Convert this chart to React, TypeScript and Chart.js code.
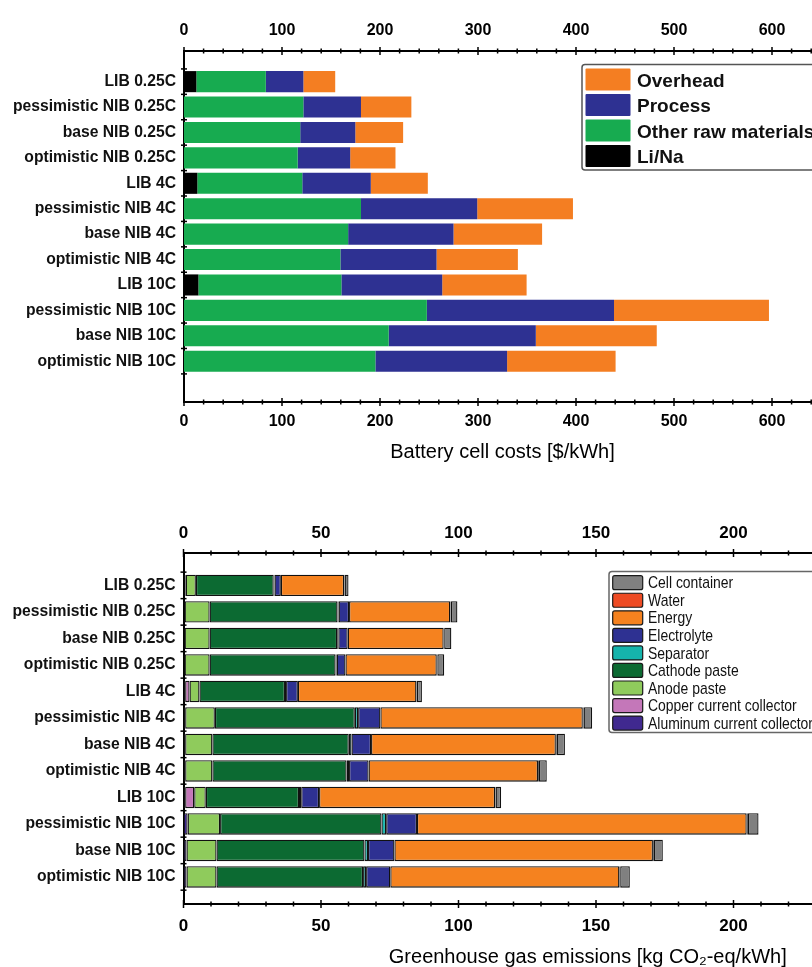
import React, { useEffect, useRef } from 'react';
import { Chart, registerables } from 'chart.js';

Chart.register(...registerables);

// ---------- data ----------
const CATEGORIES = [
  'LIB 0.25C',
  'pessimistic NIB 0.25C',
  'base NIB 0.25C',
  'optimistic NIB 0.25C',
  'LIB 4C',
  'pessimistic NIB 4C',
  'base NIB 4C',
  'optimistic NIB 4C',
  'LIB 10C',
  'pessimistic NIB 10C',
  'base NIB 10C',
  'optimistic NIB 10C',
];

const COST_MAJOR_TICKS = [0, 100, 200, 300, 400, 500, 600];
const GHG_MAJOR_TICKS = [0, 50, 100, 150, 200, 250];

// Battery cell costs [$/kWh] – segment sizes, left to right
const COST_LI_NA = [12.6, 0, 0, 0, 13.6, 0, 0, 0, 14.7, 0, 0, 0];
const COST_OTHER_RAW = [70.9, 121.8, 118.6, 116.0, 107.1, 180.6, 167.5, 159.6, 145.9, 247.8, 208.9, 195.3];
const COST_PROCESS = [38.3, 58.8, 56.2, 53.6, 69.9, 118.6, 107.5, 98.1, 102.9, 191.0, 150.1, 134.4];
const COST_OVERHEAD = [32.5, 51.4, 48.8, 46.2, 58.2, 97.7, 90.4, 83.0, 86.1, 158.1, 123.4, 110.7];

// Greenhouse gas emissions [kg CO2-eq/kWh] – segment sizes, left to right
const GHG_ALUMINUM = [0.4, 0.4, 0.4, 0.4, 0.6, 0.6, 0.6, 0.6, 0.6, 1.5, 1.1, 1.1];
const GHG_COPPER = [0.4, 0, 0, 0, 1.6, 0, 0, 0, 3.3, 0, 0, 0];
const GHG_ANODE = [3.7, 9.1, 9.1, 9.1, 3.6, 10.8, 9.9, 9.9, 4.2, 11.8, 10.9, 10.9];
const GHG_CATHODE = [28.3, 46.5, 46.4, 45.8, 31.1, 50.9, 49.6, 48.8, 33.9, 58.7, 53.8, 53.3];
const GHG_SEPARATOR = [0.3, 0.4, 0.4, 0.4, 0.4, 1.2, 1.0, 0.9, 0.8, 1.7, 1.3, 1.1];
const GHG_ELECTROLYTE = [2.3, 3.8, 3.4, 3.2, 4.3, 8.1, 7.1, 7.1, 6.5, 11.2, 9.6, 8.8];
const GHG_ENERGY = [23.0, 36.8, 34.9, 33.2, 43.1, 73.6, 67.2, 61.6, 64.0, 119.9, 94.0, 83.3];
const GHG_WATER = [0.2, 0.2, 0.2, 0.2, 0.2, 0.3, 0.3, 0.3, 0.2, 0.4, 0.3, 0.3];
const GHG_CONTAINER = [1.4, 2.4, 2.6, 2.5, 1.8, 3.1, 3.0, 2.9, 2.0, 3.9, 3.3, 3.5];

// ---------- helpers ----------
const FONT = '"Liberation Sans", Arial, Helvetica, sans-serif';

function floating(segments: number[][]) {
  const starts = segments[0].map(() => 0);
  return segments.map((seg) =>
    seg.map((v, i) => {
      const a = starts[i];
      starts[i] = a + v;
      return { x: [a, a + v], y: i };
    })
  );
}

const insideTicks = {
  id: 'insideTicks',
  afterDraw(chart: any, _a: any, o: any) {
    const { ctx, chartArea } = chart;
    ctx.save();
    ctx.strokeStyle = '#000';
    ctx.lineWidth = 1.5;
    const xs = [chart.scales.x, chart.scales.x2];
    xs.forEach((s: any, k: number) => {
      const edge = k === 0 ? chartArea.top : chartArea.bottom;
      for (let v = s.min; v <= s.max + 1e-9; v += o.minorStep) {
        const px = s.getPixelForValue(v);
        const major = Math.abs(v % o.majorStep) < 1e-6;
        const len = major ? o.majorLen : o.minorLen;
        ctx.beginPath();
        ctx.moveTo(px, edge - len);
        ctx.lineTo(px, edge + len);
        ctx.stroke();
      }
    });
    const ys = chart.scales.y;
    for (let i = 0; i <= o.count; i++) {
      const py = ys.getPixelForValue(i - 0.5);
      ctx.beginPath();
      ctx.moveTo(chartArea.left - o.yLen, py);
      ctx.lineTo(chartArea.left + o.yLen, py);
      ctx.stroke();
    }
    ctx.restore();
  },
};

const boxLegend = {
  id: 'boxLegend',
  afterDraw(chart: any, _a: any, o: any) {
    if (!o || !o.items) return;
    const ctx = chart.ctx;
    ctx.save();
    ctx.beginPath();
    ctx.roundRect(o.x, o.y, o.w, o.h, o.radius);
    ctx.fillStyle = '#fff';
    ctx.fill();
    ctx.strokeStyle = o.borderColor;
    ctx.lineWidth = o.borderWidth;
    ctx.stroke();
    o.items.forEach((it: any, i: number) => {
      const cy = o.firstY + i * o.rowH;
      ctx.beginPath();
      ctx.roundRect(o.swX, cy - o.swH / 2, o.swW, o.swH, o.swR);
      ctx.fillStyle = it.color;
      ctx.fill();
      if (o.swBorderW > 0) {
        ctx.strokeStyle = o.swBorder;
        ctx.lineWidth = o.swBorderW;
        ctx.stroke();
      }
      ctx.save();
      ctx.translate(o.textX, cy + o.textDy);
      ctx.scale(o.textScaleX, 1);
      ctx.fillStyle = '#111';
      ctx.font = o.font;
      ctx.textAlign = 'left';
      ctx.textBaseline = 'middle';
      ctx.fillText(it.label, 0, 0);
      ctx.restore();
    });
    ctx.restore();
  },
};

function xAxis(position: string, max: number, majors: number[], fontSize: number, padding: number, height: number, title?: any) {
  return {
    type: 'linear',
    position,
    min: 0,
    max,
    afterBuildTicks: (s: any) => {
      s.ticks = majors.map((v) => ({ value: v }));
    },
    afterFit: (s: any) => {
      s.height = height;
    },
    ticks: {
      autoSkip: false,
      maxRotation: 0,
      padding,
      color: '#000',
      font: { family: FONT, size: fontSize, weight: 'bold' },
    },
    grid: { display: false, drawTicks: false },
    border: { display: true, color: '#000', width: 2 },
    title: title || { display: false },
  };
}

function yAxis(min: number, max: number, width: number) {
  return {
    type: 'linear',
    reverse: true,
    min,
    max,
    afterBuildTicks: (s: any) => {
      s.ticks = CATEGORIES.map((_, i) => ({ value: i }));
    },
    afterFit: (s: any) => {
      s.width = width;
    },
    ticks: {
      autoSkip: false,
      padding: 8,
      color: '#111',
      font: { family: FONT, size: 15.7, weight: 'bold' },
      callback: (v: any) => CATEGORIES[v] ?? '',
    },
    grid: { display: false, drawTicks: false },
    border: { display: true, color: '#000', width: 2 },
  };
}

function CostChart() {
  const ref = useRef<HTMLCanvasElement>(null);
  useEffect(() => {
    const segs = floating([COST_LI_NA, COST_OTHER_RAW, COST_PROCESS, COST_OVERHEAD]);
    const names = ['Li/Na', 'Other raw materials', 'Process', 'Overhead'];
    const colors = ['#000000', '#17AB50', '#2E3192', '#F47E22'];
    const chart = new Chart(ref.current as HTMLCanvasElement, {
      type: 'bar',
      data: {
        datasets: segs.map((d, k) => ({
          label: names[k],
          data: d as any,
          backgroundColor: colors[k],
          borderWidth: 0,
          grouped: false,
          barPercentage: 0.83,
          categoryPercentage: 1,
          xAxisID: 'x',
          yAxisID: 'y',
        })),
      },
      options: {
        indexAxis: 'y',
        animation: false,
        responsive: false,
        layout: { padding: { left: 0, right: 9, top: 0, bottom: 0 } },
        scales: {
          x: xAxis('top', 650, COST_MAJOR_TICKS, 16, 11, 51),
          x2: xAxis('bottom', 650, COST_MAJOR_TICKS, 16, 10, 78, {
            display: true,
            text: 'Battery cell costs [$/kWh]',
            color: '#000',
            font: { family: FONT, size: 20 },
            padding: { top: 0, bottom: 15.5 },
          }),
          y: yAxis(-0.63, 12.03, 184),
        } as any,
        plugins: {
          legend: { display: false },
          tooltip: { enabled: false },
          insideTicks: { minorStep: 20, majorStep: 100, majorLen: 4, minorLen: 2.5, count: CATEGORIES.length, yLen: 3 },
          boxLegend: {
            items: [3, 2, 1, 0].map((k) => ({ label: names[k], color: colors[k] })),
            x: 582, y: 64.5, w: 300, h: 105.5, radius: 3,
            borderColor: '#555', borderWidth: 1.5,
            firstY: 79.5, rowH: 25.5,
            swX: 585.5, swW: 45, swH: 22, swR: 1, swBorder: '#000', swBorderW: 0,
            textX: 637, textDy: 2, textScaleX: 1,
            font: `bold 19px ${FONT}`,
          },
        } as any,
      },
      plugins: [insideTicks, boxLegend],
    } as any);
    return () => chart.destroy();
  }, []);
  return <canvas ref={ref} width={830} height={480} style={{ position: 'absolute', left: 0, top: 0 }} />;
}

function GhgChart() {
  const ref = useRef<HTMLCanvasElement>(null);
  useEffect(() => {
    const segs = floating([
      GHG_ALUMINUM, GHG_COPPER, GHG_ANODE, GHG_CATHODE, GHG_SEPARATOR,
      GHG_ELECTROLYTE, GHG_ENERGY, GHG_WATER, GHG_CONTAINER,
    ]);
    const names = [
      'Aluminum current collector', 'Copper current collector', 'Anode paste', 'Cathode paste',
      'Separator', 'Electrolyte', 'Energy', 'Water', 'Cell container',
    ];
    const colors = ['#40298F', '#C477B9', '#8FCB5C', '#0C6A32', '#15B4AC', '#2E3192', '#F5821F', '#EE4B24', '#808080'];
    const chart = new Chart(ref.current as HTMLCanvasElement, {
      type: 'bar',
      data: {
        datasets: segs.map((d, k) => ({
          label: names[k],
          data: d as any,
          backgroundColor: colors[k],
          borderColor: '#111',
          borderWidth: 1.3,
          borderSkipped: false,
          grouped: false,
          barPercentage: 0.81,
          categoryPercentage: 1,
          xAxisID: 'x',
          yAxisID: 'y',
        })),
      },
      options: {
        indexAxis: 'y',
        animation: false,
        responsive: false,
        layout: { padding: { left: 0, right: 8, top: 0, bottom: 0 } },
        scales: {
          x: xAxis('top', 294, GHG_MAJOR_TICKS, 17, 9.8, 73),
          x2: xAxis('bottom', 294, GHG_MAJOR_TICKS, 17, 12.5, 63, {
            display: true,
            text: 'Greenhouse gas emissions [kg CO\u2082-eq/kWh]',
            color: '#000',
            font: { family: FONT, size: 20, lineHeight: 1 },
            padding: { top: 0, bottom: 0 },
          }),
          y: yAxis(-0.67, 11.47, 183.5),
        } as any,
        plugins: {
          legend: { display: false },
          tooltip: { enabled: false },
          insideTicks: { minorStep: 10, majorStep: 50, majorLen: 4, minorLen: 2.5, count: CATEGORIES.length, yLen: 3 },
          boxLegend: {
            items: [8, 7, 6, 5, 4, 3, 2, 1, 0].map((k) => ({ label: names[k], color: colors[k] })),
            x: 609, y: 91.5, w: 400, h: 161, radius: 3,
            borderColor: '#666', borderWidth: 1.5,
            firstY: 102.7, rowH: 17.55,
            swX: 612.7, swW: 30, swH: 14, swR: 2, swBorder: '#1a1a1a', swBorderW: 1.2,
            textX: 648, textDy: 1, textScaleX: 0.82,
            font: `17px ${FONT}`,
          },
        } as any,
      },
      plugins: [insideTicks, boxLegend],
    } as any);
    return () => chart.destroy();
  }, []);
  return <canvas ref={ref} width={1000} height={487} style={{ position: 'absolute', left: 0, top: 480 }} />;
}

export default function App() {
  return (
    <div style={{ position: 'absolute', left: 0, top: 0, width: 812, height: 967, overflow: 'hidden', background: '#fff' }}>
      <CostChart />
      <GhgChart />
    </div>
  );
}
